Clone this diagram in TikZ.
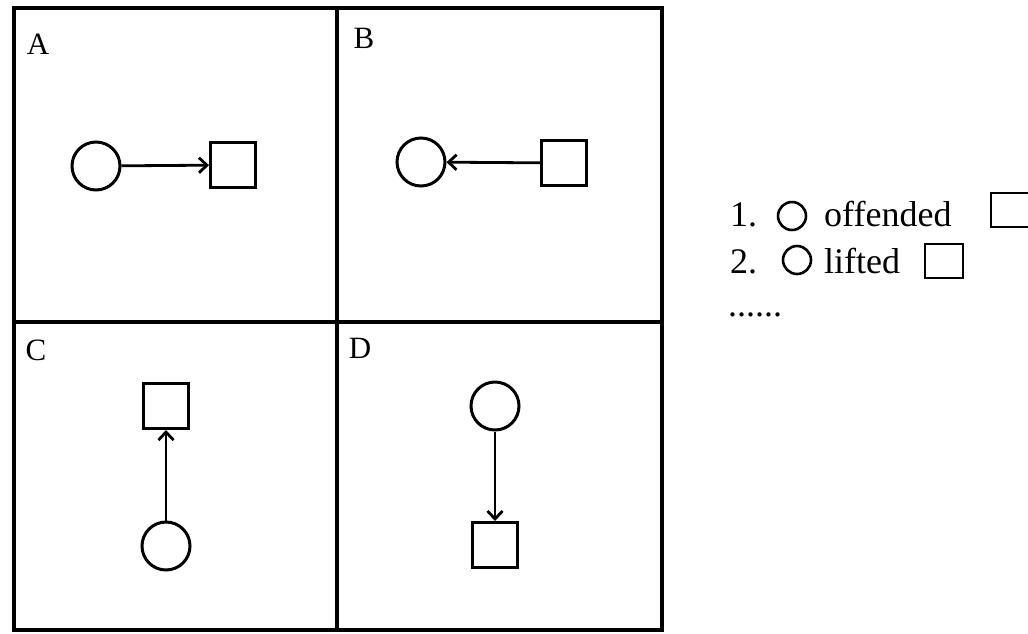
\documentclass[tikz,border=0pt]{standalone}
\usepackage{fontspec}
\setmainfont{Liberation Serif}
\usetikzlibrary{arrows.meta}
\tikzset{
  ent/.style={circle,draw,line width=3pt,minimum size=48pt,inner sep=0pt},
  obj/.style={rectangle,draw,line width=3pt,minimum size=45pt,inner sep=0pt},
  lnk/.style={line width=2.8pt,-{Straight Barb[length=8pt,width=15pt,line width=2.8pt]}},
  tag/.style={font=\fontsize{31}{31}\selectfont,inner sep=0pt},
  leg/.style={font=\fontsize{36}{40}\selectfont,inner sep=0pt,anchor=base west},
  legc/.style={circle,draw,line width=2.6pt,minimum size=28pt,inner sep=0pt},
  legs/.style={rectangle,draw,line width=2.6pt,minimum width=38pt,minimum height=34pt,inner sep=0pt}
}
\begin{document}
\begin{tikzpicture}[x=1pt,y=-1pt]
      \useasboundingbox (0,0) rectangle (1028,633);
      % panels
      \draw[line width=3.5pt] (14,8) rectangle (662,630);
      \draw[line width=3.5pt] (337,8) -- (337,630);
      \draw[line width=3.5pt] (14,322) -- (662,322);
      \draw
        (38,44) node[tag] (ta){A}
        (364,38) node[tag] (tb){B}
        (36,350) node[tag] (tc){C}
        (360,348) node[tag] (td){D};
      % shapes
      \node[ent] (a1) at (96,166) {};
      \node[obj] (a2) at (233,165) {};
      \node[ent] (b1) at (421,162) {};
      \node[obj] (b2) at (564,163) {};
      \node[obj] (c2) at (166,406) {};
      \node[ent] (c1) at (166,546) {};
      \node[ent] (d1) at (495,406) {};
      \node[obj] (d2) at (495,545) {};
      \begin{scope}[lnk]
        \draw (a1) to (a2);
        \draw (b2) to (b1);
        \draw (c1) to (c2);
        \draw (d1) to (d2);
      \end{scope}
      % legend
      \node[leg] (n1) at (730,226) {1.};
      \node[legc] (lc1) at (792,216) {};
      \node[leg] (w1) at (824,226) {offended};
      \node[legs] (ls1) at (1010,210) {};
      \node[leg] (n2) at (730,273) {2.};
      \node[legc] (lc2) at (797,260) {};
      \node[leg] (w2) at (824,273) {lifted};
      \node[legs] (ls2) at (944,261) {};
      \node[leg] (dots) at (728,316) {......};
    \end{tikzpicture}
\end{document}
